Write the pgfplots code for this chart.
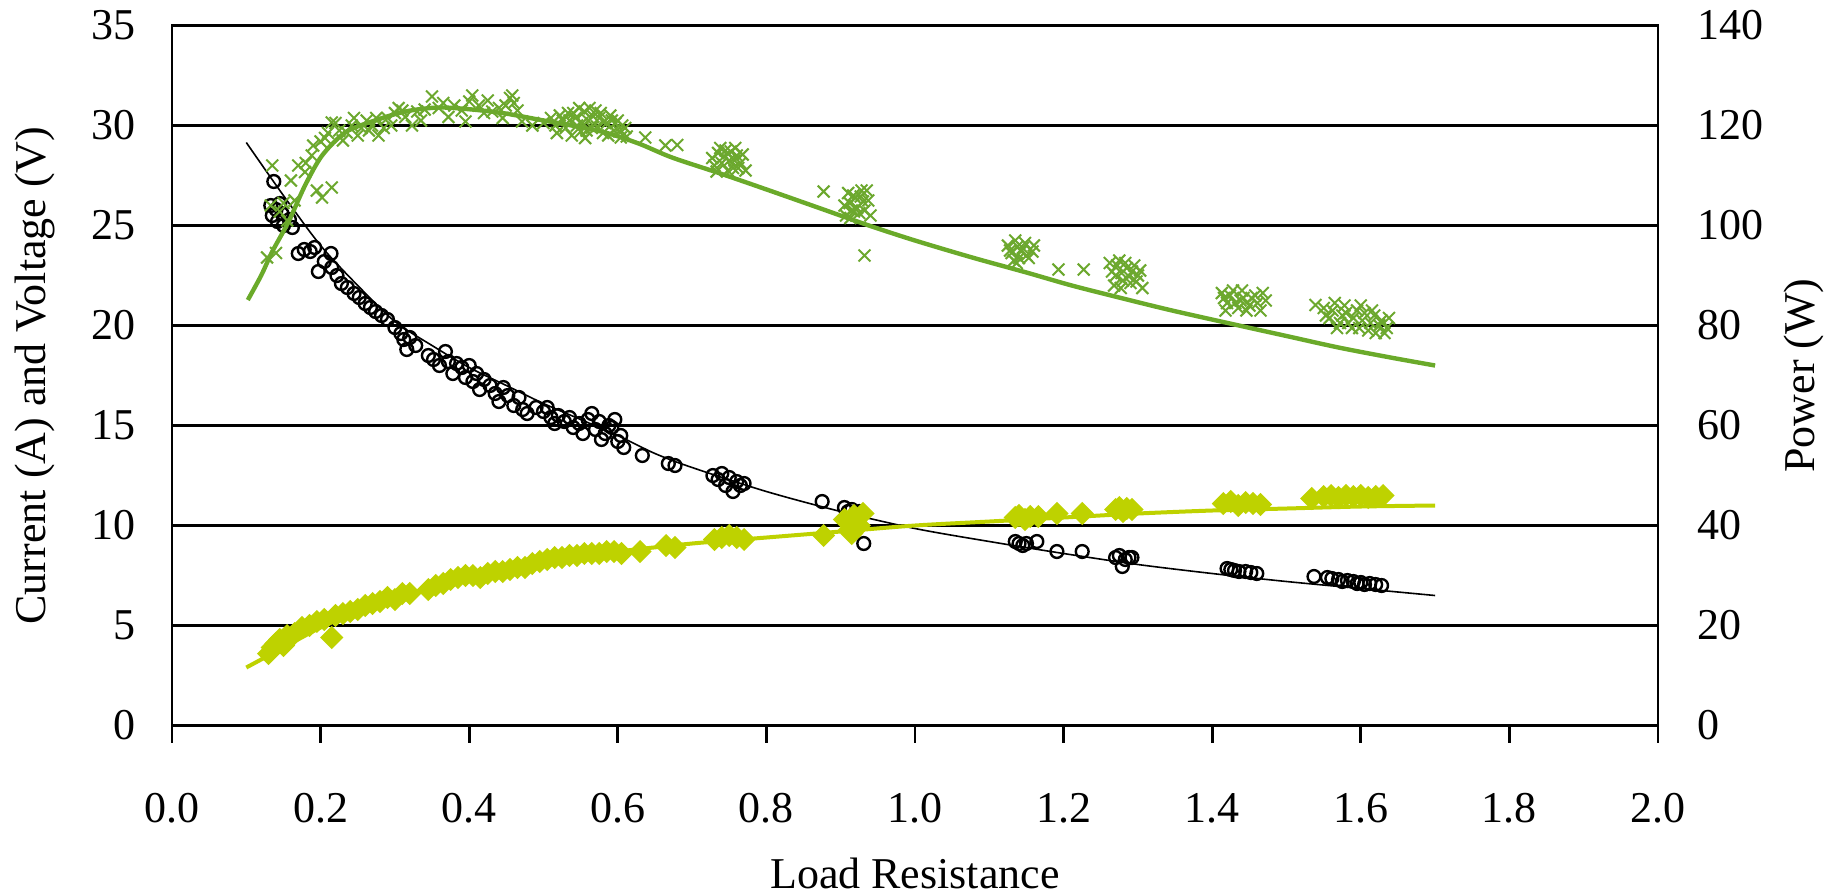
\documentclass[border=0pt]{standalone}
\usepackage{fontspec}
\setmainfont{Liberation Serif}
\usepackage{pgfplots}
\pgfplotsset{compat=1.18}
\definecolor{pgreen}{RGB}{106,170,42}
\definecolor{pmark}{RGB}{108,168,46}
\definecolor{vyellow}{RGB}{190,210,0}

\pgfplotstableread{
R I
0.137 27.2
0.133 26.0
0.140 25.8
0.135 25.5
0.145 26.1
0.148 25.6
0.142 25.2
0.150 25.0
0.158 25.3
0.162 24.9
0.170 23.6
0.178 23.8
0.186 23.7
0.192 23.9
0.197 22.7
0.205 23.2
0.214 23.6
0.215 22.9
0.222 22.5
0.228 22.1
0.236 21.9
0.245 21.6
0.252 21.4
0.260 21.1
0.267 20.9
0.274 20.7
0.282 20.5
0.290 20.3
0.300 19.9
0.308 19.6
0.312 19.3
0.316 18.8
0.320 19.4
0.328 19.0
0.345 18.5
0.352 18.3
0.360 18.0
0.368 18.7
0.372 18.2
0.378 17.6
0.383 18.1
0.390 17.9
0.395 17.4
0.400 18.0
0.405 17.2
0.410 17.6
0.414 16.8
0.420 17.3
0.428 17.0
0.435 16.6
0.440 16.2
0.446 16.9
0.452 16.5
0.460 16.0
0.467 16.4
0.472 15.8
0.478 15.6
0.490 15.9
0.500 15.7
0.505 15.9
0.510 15.4
0.515 15.1
0.520 15.5
0.528 15.2
0.535 15.4
0.540 14.9
0.548 15.1
0.553 14.6
0.560 15.3
0.565 15.6
0.570 14.8
0.575 15.2
0.578 14.3
0.583 14.6
0.588 15.0
0.592 14.9
0.596 15.3
0.600 14.2
0.604 14.5
0.608 13.9
0.633 13.5
0.668 13.1
0.677 13.0
0.728 12.5
0.735 12.3
0.740 12.6
0.745 12.0
0.750 12.4
0.755 11.7
0.760 12.2
0.765 12.0
0.770 12.1
0.875 11.2
0.905 10.9
0.910 10.7
0.915 10.8
0.920 10.6
0.925 10.7
0.931 9.1
1.135 9.2
1.140 9.1
1.145 9.0
1.150 9.1
1.164 9.2
1.191 8.7
1.225 8.7
1.270 8.4
1.275 8.5
1.279 7.95
1.283 8.3
1.288 8.4
1.292 8.4
1.420 7.85
1.425 7.8
1.430 7.75
1.436 7.7
1.445 7.7
1.452 7.65
1.460 7.6
1.537 7.45
1.555 7.4
1.561 7.35
1.570 7.3
1.575 7.2
1.582 7.25
1.590 7.2
1.595 7.1
1.600 7.15
1.605 7.05
1.612 7.1
1.620 7.05
1.628 7.0
}\currentdata

\pgfplotstableread{
R I
0.100 29.15
0.150 26.5
0.200 24.0
0.250 22.0
0.300 20.2
0.350 19.0
0.400 17.9
0.450 17.0
0.500 16.1
0.550 15.3
0.600 14.5
0.650 13.6
0.700 12.9
0.800 11.7
0.900 10.7
1.000 9.85
1.100 9.2
1.200 8.6
1.300 8.05
1.400 7.6
1.500 7.2
1.600 6.85
1.700 6.5
}\currenttrend

\pgfplotstableread{
R V
0.130 3.6
0.135 3.9
0.140 4.1
0.145 4.3
0.150 4.0
0.155 4.5
0.165 4.6
0.175 4.9
0.185 5.0
0.195 5.2
0.205 5.3
0.215 4.4
0.220 5.5
0.230 5.6
0.240 5.7
0.250 5.8
0.260 6.0
0.270 6.1
0.280 6.2
0.290 6.4
0.300 6.3
0.310 6.6
0.320 6.6
0.345 6.8
0.355 7.0
0.365 7.1
0.375 7.3
0.385 7.4
0.395 7.5
0.405 7.5
0.415 7.4
0.425 7.6
0.435 7.7
0.445 7.7
0.455 7.8
0.465 7.9
0.475 7.9
0.485 8.1
0.495 8.2
0.505 8.3
0.515 8.4
0.525 8.4
0.535 8.5
0.545 8.5
0.555 8.6
0.565 8.6
0.575 8.6
0.585 8.7
0.595 8.7
0.605 8.6
0.630 8.7
0.665 9.0
0.677 8.9
0.730 9.3
0.740 9.4
0.750 9.5
0.760 9.4
0.770 9.3
0.877 9.5
0.905 10.3
0.912 9.8
0.915 9.6
0.918 10.5
0.925 10.0
0.930 10.6
1.135 10.4
1.140 10.5
1.148 10.3
1.155 10.45
1.166 10.45
1.191 10.6
1.225 10.6
1.270 10.8
1.275 10.9
1.280 10.7
1.285 10.85
1.292 10.8
1.415 11.1
1.425 11.2
1.435 11.0
1.445 11.15
1.455 11.1
1.465 11.05
1.534 11.35
1.550 11.45
1.560 11.5
1.570 11.4
1.580 11.5
1.590 11.45
1.600 11.5
1.610 11.4
1.620 11.45
1.630 11.5
}\voltagedata

\pgfplotstableread{
R V
0.10 2.9
0.15 3.9
0.20 4.9
0.25 5.7
0.30 6.3
0.35 6.85
0.40 7.35
0.45 7.75
0.50 8.15
0.55 8.45
0.60 8.7
0.70 9.1
0.80 9.4
0.90 9.7
1.00 10.0
1.10 10.2
1.20 10.4
1.30 10.6
1.40 10.75
1.50 10.85
1.60 10.95
1.70 11.0
}\voltagetrend

\pgfplotstableread{
R P
0.128 93.6
0.140 94.5
0.133 104.0
0.145 102.8
0.150 104.5
0.155 101.0
0.165 105.0
0.135 112.0
0.170 112.0
0.179 110.7
0.180 112.5
0.190 116.0
0.195 107.0
0.202 105.6
0.215 107.6
0.160 109.0
0.188 114.0
0.200 116.8
0.206 117.5
0.210 118.5
0.215 120.6
0.220 120.5
0.225 119.0
0.230 117.0
0.235 118.6
0.242 120.0
0.245 121.5
0.250 118.0
0.255 119.5
0.262 121.0
0.265 119.0
0.269 120.0
0.275 121.5
0.278 118.0
0.285 119.5
0.290 121.5
0.295 120.0
0.300 122.5
0.305 123.5
0.310 123.0
0.314 121.7
0.323 120.0
0.330 122.8
0.335 121.0
0.340 123.2
0.350 125.8
0.359 123.5
0.365 124.5
0.372 121.7
0.380 124.0
0.390 123.0
0.395 120.8
0.400 124.8
0.404 126.0
0.413 124.0
0.420 122.5
0.425 125.0
0.431 122.8
0.440 123.5
0.445 121.5
0.449 124.0
0.455 125.5
0.458 126.0
0.460 124.5
0.465 123.0
0.471 120.8
0.485 120.0
0.500 120.5
0.510 121.5
0.516 120.0
0.518 118.5
0.522 122.0
0.526 121.0
0.530 119.5
0.533 122.5
0.535 121.0
0.538 118.0
0.540 122.5
0.543 121.5
0.545 120.0
0.548 123.5
0.550 118.8
0.552 120.5
0.555 122.8
0.556 117.5
0.558 119.0
0.560 121.0
0.562 123.5
0.565 119.5
0.567 121.8
0.570 123.0
0.572 119.8
0.575 121.5
0.577 122.5
0.580 118.5
0.582 120.8
0.585 120.5
0.587 118.0
0.590 122.0
0.592 121.0
0.595 119.0
0.597 120.5
0.600 121.0
0.602 118.8
0.604 117.6
0.606 120.0
0.610 119.5
0.612 117.8
0.637 117.6
0.664 116.0
0.680 116.1
0.727 113.5
0.730 112.0
0.733 110.8
0.735 114.5
0.738 115.5
0.740 112.5
0.743 113.8
0.745 115.0
0.748 111.0
0.750 113.0
0.752 114.8
0.755 111.5
0.757 113.0
0.758 115.5
0.760 114.0
0.762 111.5
0.765 112.5
0.768 114.2
0.772 111.0
0.877 106.8
0.905 104.0
0.907 102.0
0.910 106.5
0.912 104.5
0.913 101.5
0.915 103.0
0.917 106.0
0.918 102.8
0.920 105.5
0.922 103.5
0.925 102.5
0.927 105.8
0.928 107.0
0.930 104.8
0.932 103.0
0.935 107.0
0.937 105.0
0.940 102.0
0.932 94.0
1.125 96.0
1.128 95.0
1.130 94.5
1.133 93.0
1.135 97.0
1.137 92.5
1.138 95.8
1.140 93.5
1.143 94.8
1.145 95.5
1.148 96.5
1.150 94.0
1.153 93.5
1.158 94.8
1.160 96.0
1.193 91.2
1.227 91.2
1.262 92.5
1.265 90.8
1.268 88.0
1.270 90.0
1.272 92.0
1.275 93.0
1.277 87.5
1.278 90.5
1.280 89.0
1.283 92.5
1.285 91.5
1.288 89.8
1.290 88.5
1.292 90.8
1.295 92.0
1.298 88.8
1.300 90.0
1.303 91.0
1.306 87.5
1.413 86.5
1.416 85.5
1.418 83.0
1.420 84.5
1.424 86.0
1.428 87.0
1.431 84.5
1.435 83.5
1.438 85.0
1.440 87.0
1.442 85.5
1.446 83.0
1.450 84.0
1.453 85.5
1.458 86.0
1.461 84.5
1.465 83.0
1.468 86.5
1.472 85.0
1.539 84.1
1.550 83.5
1.553 82.0
1.558 81.5
1.562 83.0
1.565 84.5
1.568 79.5
1.572 80.5
1.575 82.0
1.578 84.0
1.580 82.5
1.583 80.5
1.588 79.5
1.590 81.5
1.595 83.0
1.598 79.5
1.600 84.0
1.602 81.0
1.605 82.5
1.610 79.0
1.613 80.5
1.615 83.0
1.618 82.0
1.620 78.5
1.625 80.0
1.628 81.0
1.632 78.5
1.635 79.5
1.638 81.5
}\powerdata

\pgfplotstableread{
R P
0.102 85.1
0.120 90.0
0.135 94.8
0.157 100.8
0.179 108.0
0.202 114.0
0.233 118.6
0.269 120.8
0.314 122.8
0.359 123.6
0.404 123.2
0.449 122.4
0.493 121.2
0.538 120.0
0.583 118.6
0.628 116.4
0.673 113.6
0.740 110.3
0.808 106.8
0.873 103.4
0.938 100.0
1.000 97.0
1.077 93.6
1.150 90.6
1.211 88.0
1.280 85.4
1.346 83.0
1.436 80.0
1.500 77.9
1.570 75.6
1.640 73.6
1.700 72.0
}\powertrend

\begin{document}
\begin{tikzpicture}
\path[use as bounding box] (-43pt,-41.875pt) rectangle (414.75pt,181.375pt);
\begin{axis}[
  at={(0pt,0pt)}, anchor=south west,
  scale only axis, width=371.5pt, height=175pt,
  xmin=0, xmax=2, ymin=0, ymax=35,
  xtick={0,0.2,0.4,0.6,0.8,1.0,1.2,1.4,1.6,1.8,2.0},
  ytick={0,5,10,15,20,25,30,35},
  xtick pos=bottom, ytick pos=left,
  tick align=outside, major tick length=4.25pt,
  x tick style={black, line width=0.7pt},
  y tick style={draw=none},
  ymajorgrids, grid style={black, line width=0.7pt},
  axis line style={black, line width=0.7pt},
  tick label style={font=\fontsize{11}{13}\selectfont, inner sep=0pt, /pgf/number format/assume math mode=true},
  xticklabel style={anchor=center, yshift=-16.5pt, /pgf/number format/.cd, fixed, fixed zerofill, precision=1},
  yticklabel style={anchor=east, xshift=-4.75pt},
  label style={font=\fontsize{11}{13}\selectfont},
  xlabel={Load Resistance},
  ylabel={Current (A) and Voltage (V)},
  x label style={at={(axis description cs:0.5,-0.2107)}, anchor=center},
  y label style={at={(axis description cs:-0.0922,0.5)}, anchor=center},
  clip=false,
]
\addplot[only marks, mark=o, mark size=1.6pt, mark options={black, fill=white, line width=0.6pt}] table[x=R, y=I] {\currentdata};
\addplot[black, line width=0.4pt, smooth] table[x=R, y=I] {\currenttrend};
\addplot[only marks, mark=square*, mark size=1.85pt, mark options={vyellow, fill=vyellow, rotate=45}] table[x=R, y=V] {\voltagedata};
\addplot[vyellow, line width=1pt, smooth] table[x=R, y=V] {\voltagetrend};
\end{axis}
\begin{axis}[
  at={(0pt,0pt)}, anchor=south west,
  scale only axis, width=371.5pt, height=175pt,
  xmin=0, xmax=2, ymin=0, ymax=140,
  ytick={0,20,40,60,80,100,120,140},
  axis y line*=right, axis x line=none,
  y tick style={draw=none},
  axis line style={black, line width=0.7pt},
  tick label style={font=\fontsize{11}{13}\selectfont, inner sep=0pt, /pgf/number format/assume math mode=true},
  yticklabel style={anchor=west, xshift=9.75pt},
  label style={font=\fontsize{11}{13}\selectfont},
  ylabel={Power (W)},
  y label style={at={(axis description cs:1.0982,0.5)}, anchor=center},
  clip=false,
]
\addplot[only marks, mark=x, mark size=2.1pt, mark options={pmark, line width=0.5pt}] table[x=R, y=P] {\powerdata};
\addplot[pgreen, line width=1.1pt, smooth] table[x=R, y=P] {\powertrend};
\end{axis}
\end{tikzpicture}
\end{document}
